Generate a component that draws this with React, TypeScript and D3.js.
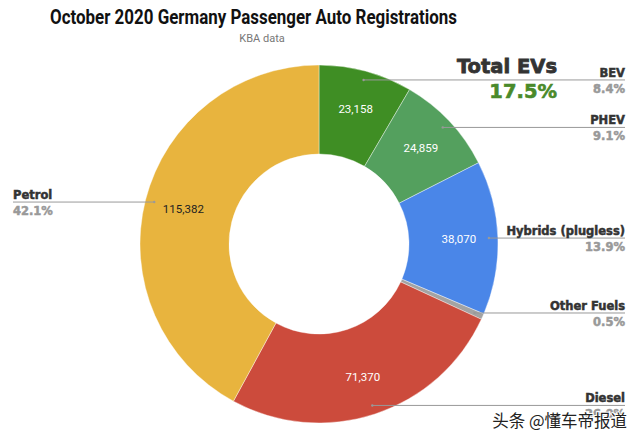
import React from "react";
import * as d3 from "d3";

const categories = ["BEV", "PHEV", "Hybrids (plugless)", "Other Fuels", "Diesel", "Petrol"];
const values = [23158, 24859, 38070, 1460, 71370, 115382];
const valueLabels = ["23,158", "24,859", "38,070", "", "71,370", "115,382"];
const percentLabels = ["8.4%", "9.1%", "13.9%", "0.5%", "26.0%", "42.1%"];
const colors = ["#3f8e24", "#54a05e", "#4a86e8", "#a3a3a3", "#cc4b3c", "#e8b43e"];
const valueTextColors = ["#fff", "#fff", "#fff", "#fff", "#fff", "#222"];
const labelSide = ["right", "right", "right", "right", "right", "left"];

const W = 640, H = 443;
const cx = 319, cy = 244, R = 179, r0 = 90;

export default function App() {
  const pie = d3.pie<number>().sort(null).value((d) => d)(values);
  const arc = d3.arc<d3.PieArcDatum<number>>().innerRadius(r0).outerRadius(R);
  const pt = (a: number, rad: number) => [cx + rad * Math.sin(a), cy - rad * Math.cos(a)];
  const labelFont = "'DejaVu Sans', Verdana, sans-serif";
  return (
    <svg width={W} height={H} style={{ position: "absolute", left: 0, top: 0, background: "#fff" }}>
      <text x={50} y={24} textLength={407} lengthAdjust="spacingAndGlyphs" fontFamily="Roboto, sans-serif" fontWeight={700} fontSize={21} fill="#111">
        October 2020 Germany Passenger Auto Registrations
      </text>
      <text x={262} y={42} textAnchor="middle" fontFamily="Roboto, sans-serif" fontSize={11} fill="#777">KBA data</text>
      <g transform={`translate(${cx},${cy})`}>
        {pie.map((p, i) => (
          <path key={i} d={arc(p) || ""} fill={colors[i]} stroke="#fff" strokeWidth={0.4} />
        ))}
      </g>
      {pie.map((p, i) => {
        const mid = (p.startAngle + p.endAngle) / 2;
        const [tx, ty] = pt(mid, 140);
        return valueLabels[i] ? (
          <text key={"v" + i} x={tx} y={ty} textAnchor="middle" dominantBaseline="central"
            fontFamily="Roboto, Arial, sans-serif" fontSize={11.5} fill={valueTextColors[i]}>{valueLabels[i]}</text>
        ) : null;
      })}
      {pie.map((p, i) => {
        const mid = (p.startAngle + p.endAngle) / 2;
        const [dx, dy] = pt(mid, 170);
        const right = labelSide[i] === "right";
        const x2 = right ? 625 : 13;
        const anchor = right ? "end" : "start";
        return (
          <g key={"l" + i}>
            <line x1={dx} y1={dy} x2={x2} y2={dy} stroke="#999" strokeWidth={1} />
            <circle cx={dx} cy={dy} r={1.2} fill="#999" />
            <text x={x2} y={dy - 3} textAnchor={anchor} fontFamily={labelFont} fontWeight={700} fontSize={11.5} fill="#333" stroke="#333" strokeWidth={0.5}>{categories[i]}</text>
            <text x={x2} y={dy + 13} textAnchor={anchor} fontFamily={labelFont} fontWeight={700} fontSize={11.5} fill="#999" stroke="#999" strokeWidth={0.5}>{percentLabels[i]}</text>
          </g>
        );
      })}
      <text x={557} y={73} textAnchor="end" fontFamily={labelFont} fontWeight={700} fontSize={19.5} fill="#333" stroke="#333" strokeWidth={0.8}>Total EVs</text>
      <text x={557} y={98} textAnchor="end" fontFamily={labelFont} fontWeight={700} fontSize={19.5} fill="#4a8a2a" stroke="#4a8a2a" strokeWidth={0.6}>17.5%</text>
      <text x={627} y={427} textAnchor="end" fontFamily="'Noto Sans CJK SC', sans-serif" fontSize={16.5} fill="#222"
        stroke="#fff" strokeWidth={2} paintOrder="stroke">头条 @懂车帝报道</text>
    </svg>
  );
}
